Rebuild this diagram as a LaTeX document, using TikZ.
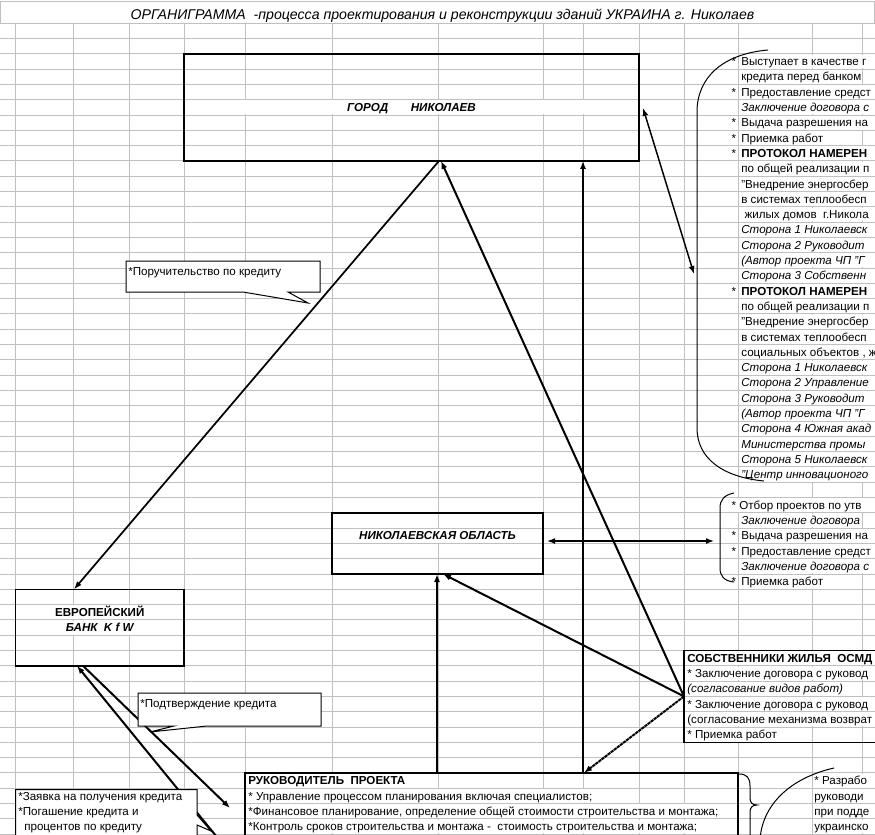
\documentclass[tikz,border=0pt]{standalone}
\usepackage{fontspec}
\setmainfont{Liberation Sans}
\usetikzlibrary{arrows.meta,fit}
\definecolor{gridc}{HTML}{C0C0C0}
\newcommand\bsz{\fontsize{8.7}{10}\selectfont}
\newcommand\xcell[5]{\node[txt,#4] (#1) at (#2,{35+15.3*#3}) {#5};}
\newcommand\xstar[2]{\node[txt,tR,anchor=base east] (#1) at (737.5,{35+15.3*#2}) {*};}
\tikzset{
 gridline/.style={draw=gridc,line width=0.75pt},
 txt/.style={anchor=base west,inner sep=0pt,inner xsep=0.8pt,fill=white,text height=8.3pt,text depth=2.1pt},
 tR/.style={font=\bsz},
 tI/.style={font=\bsz\itshape},
 tB/.style={font=\bsz\bfseries},
 tBI/.style={font=\bsz\bfseries\itshape},
 box/.style={draw=black,line width=1.1pt,inner sep=0pt,outer sep=0pt},
 lbl/.style={fill=white,inner sep=0pt,text height=8.3pt,text depth=2.1pt,anchor=base},
 conn/.style={line width=1.5pt,-{Latex[length=6pt,width=4.5pt]}},
 thinconn/.style={line width=1.3pt,-{Latex[length=6pt,width=4.5pt]}},
 dconn/.style={line width=1.1pt,{Latex[length=6pt,width=4.5pt]}-{Latex[length=6pt,width=4.5pt]}},
 bracel/.style={draw=black,line width=0.75pt},
 callout/.style={draw=black,fill=white,line width=0.75pt},
}
\begin{document}
\begin{tikzpicture}[x=0.75pt,y=-0.75pt]
\useasboundingbox (0,0) rectangle (875,835);
\fill[white] (0,0) rectangle (875,835);
\begin{scope}
\clip (0,0) rectangle (875,835);
% ---------- grid ----------
\draw[gridline] (0.4,1) -- (874.6,1);
\draw[gridline] (0.4,1) -- (0.4,23.2);
\draw[gridline] (874.6,1) -- (874.6,23.2);
\foreach \k in {0,...,53} \draw[gridline] (0,{23.2+15.3*\k}) -- (875,{23.2+15.3*\k});
\foreach \x in {15,73,129,184,245,332,438,543,583,639,684,738,812,862} \draw[gridline] (\x,23.2) -- (\x,835);
% ---------- title ----------
\node[anchor=base,inner sep=0pt,font=\fontsize{10.6}{12}\selectfont\itshape] (title) at (442.5,19) {ОРГАНИГРАММА\ \ -процесса проектирования и реконструкции зданий УКРАИНА г. Николаев};
% ---------- right column (top) ----------
\xstar{s2}{2}\xcell{r2}{740}{2}{tR}{Выступает в качестве г}
\xcell{r3}{740}{3}{tR}{кредита перед банком}
\xstar{s4}{4}\xcell{r4}{740}{4}{tR}{Предоставление средст}
\xcell{r5}{740}{5}{tI}{Заключение договора с}
\xstar{s6}{6}\xcell{r6}{740}{6}{tR}{Выдача разрешения на}
\xstar{s7}{7}\xcell{r7}{740}{7}{tR}{Приемка работ}
\xstar{s8}{8}\xcell{r8}{740}{8}{tB}{ПРОТОКОЛ НАМЕРЕН}
\xcell{r9}{740}{9}{tR}{по общей реализации п}
\xcell{r10}{740}{10}{tR}{"Внедрение энергосбер}
\xcell{r11}{740}{11}{tR}{в системах теплообесп}
\xcell{r12}{740}{12}{tR}{\ жилых домов\ \ г.Никола}
\xcell{r13}{740}{13}{tI}{Сторона 1 Николаевск}
\xcell{r14}{740}{14}{tI}{Сторона 2 Руководит}
\xcell{r15}{740}{15}{tI}{(Автор проекта ЧП "Г}
\xcell{r16}{740}{16}{tI}{Сторона 3 Собственн}
\xstar{s17}{17}\xcell{r17}{740}{17}{tB}{ПРОТОКОЛ НАМЕРЕН}
\xcell{r18}{740}{18}{tR}{по общей реализации п}
\xcell{r19}{740}{19}{tR}{"Внедрение энергосбер}
\xcell{r20}{740}{20}{tR}{в системах теплообесп}
\xcell{r21}{740}{21}{tR}{социальных объектов , ж}
\xcell{r22}{740}{22}{tI}{Сторона 1 Николаевск}
\xcell{r23}{740}{23}{tI}{Сторона 2 Управление}
\xcell{r24}{740}{24}{tI}{Сторона 3 Руководит}
\xcell{r25}{740}{25}{tI}{(Автор проекта ЧП "Г}
\xcell{r26}{740}{26}{tI}{Сторона 4 Южная акад}
\xcell{r27}{740}{27}{tI}{Министерства промы}
\xcell{r28}{740}{28}{tI}{Сторона 5 Николаевск}
\xcell{r29}{740}{29}{tI}{"Центр инновационого}
% ---------- right column (middle) ----------
\xstar{s31}{31}\xcell{r31}{738}{31}{tR}{Отбор проектов по утв}
\xcell{r32}{740}{32}{tI}{Заключение договора}
\xstar{s33}{33}\xcell{r33}{740}{33}{tR}{Выдача разрешения на}
\xstar{s34}{34}\xcell{r34}{740}{34}{tR}{Предоставление средст}
\xcell{r35}{740}{35}{tI}{Заключение договора с}
\xstar{s36}{36}\xcell{r36}{740}{36}{tR}{Приемка работ}
% ---------- owners box texts ----------
\xcell{o41}{686}{41}{tB}{СОБСТВЕННИКИ ЖИЛЬЯ\ \ ОСМД}
\xcell{o42}{686}{42}{tR}{* Заключение договора с руковод}
\xcell{o43}{686}{43}{tI}{(согласование видов работ)}
\xcell{o44}{686}{44}{tR}{* Заключение договора с руковод}
\xcell{o45}{686}{45}{tR}{(согласование механизма возврат}
\xcell{o46}{686}{46}{tR}{* Приемка работ}
% ---------- project manager texts ----------
\xcell{p49}{247}{49}{tB}{РУКОВОДИТЕЛЬ\ \ ПРОЕКТА}
\xcell{p50}{247}{50}{tR}{* Управление процессом планирования включая специалистов;}
\xcell{p51}{247}{51}{tR}{*Финансовое планирование, определение общей стоимости строительства и монтажа;}
\xcell{p52}{247}{52}{tR}{*Контроль сроков строительства и монтажа -\ \ стоимость строительства и монтажа;}
% ---------- bottom right texts ----------
\xcell{q49}{813}{49}{tR}{* Разрабо}
\xcell{q50}{813}{50}{tR}{руководи}
\xcell{q51}{813}{51}{tR}{при подде}
\xcell{q52}{813}{52}{tR}{украинско}
% ---------- boxes ----------
\node[box,fit={(184,53.8) (639,160.9)}] (gorod) {};
\node[box,fit={(332,512.8) (543,574)}] (obl) {};
\node[box,fit={(15.5,589.3) (184,665.8)}] (eu) {};
\node[box,fit={(684,650.5) (900,742.3)}] (sob) {};
\node[box,fit={(245,772.9) (738,860)}] (ruk) {};
\node[lbl,tBI,minimum width=339pt] (gorodL) at (411.5,{35+15.3*5}) {ГОРОД\hspace{17pt}НИКОЛАЕВ};
\node[lbl,tBI,minimum width=156pt] (oblL) at (437.5,{35+15.3*33}) {НИКОЛАЕВСКАЯ ОБЛАСТЬ};
\node[lbl,tB,minimum width=124pt] (euL1) at (99.75,{35+15.3*38}) {ЕВРОПЕЙСКИЙ};
\node[lbl,tBI,minimum width=124pt] (euL2) at (99.75,{35+15.3*39}) {БАНК\ \ K f W};
% ---------- braces ----------
\draw[bracel] (768,50) .. controls (722,54) and (697,78) .. (697,112) -- (697,428) .. controls (697,458) and (722,477) .. (764,481);
\draw[bracel] (734,493) .. controls (724,495) and (720,500) .. (720,508) -- (720,568) .. controls (720,576) and (724,581) .. (734,582);
\draw[bracel] (739,774) .. controls (747,774) and (750,778) .. (750,786) -- (750,798) .. controls (750,802) and (752,805) .. (757,805) .. controls (752,805) and (750,808) .. (750,812) -- (750,840);
\draw[bracel] (834,768) .. controls (790,778) and (762,805) .. (760,840);
% ---------- coordinates ----------
\coordinate (x74) at (74,0);
\coordinate (x77) at (77,0);
\coordinate (x83) at (83,0);
\coordinate (x437) at (437,0);
\coordinate (x439) at (439,0);
\coordinate (x441) at (441,0);
\coordinate (x443) at (443,0);
\coordinate (x583) at (583,0);
\coordinate (x584) at (584,0);
\coordinate (gArr) at (643,108);
\coordinate (bArr1) at (694,274);
\coordinate (oArr) at (547,541);
\coordinate (bArr2) at (714,541);
\coordinate (rukA) at (230,808);
\coordinate (b1end) at (221,842);
% ---------- connectors ----------
\draw[thinconn] (gorod.south -| x439) -- (eu.north -| x74);
\draw[conn] (sob.west) -- (gorod.south -| x441);
\draw[conn] (sob.west) -- (obl.south -| x443);
\draw[conn,dash pattern=on 2.4pt off 0.5pt] (sob.west) -- (ruk.north -| x584);
\draw[conn] (ruk.north -| x583) -- (gorod.south -| x583);
\draw[conn] (ruk.north -| x437) -- (obl.south -| x437);
\draw[dconn] (gArr) -- (bArr1);
\draw[dconn] (oArr) -- (bArr2);
\draw[conn] (b1end) -- (eu.south -| x77);
\draw[conn] (eu.south -| x83) -- (rukA);
% ---------- callouts ----------
\draw[callout] (126,261) -- (320,261) -- (320,292) -- (288,292) -- (308,303) -- (243,292) -- (126,292) -- cycle;
\node[anchor=base west,inner sep=0pt,tR] (c1) at (128,275) {*Поручительство по кредиту};
\draw[callout] (138,693) -- (321,693) -- (321,726) -- (207,726) -- (150,732) -- (174,726) -- (138,726) -- cycle;
\node[anchor=base west,inner sep=0pt,tR] (c2) at (140,707) {*Подтверждение кредита};
\draw[callout] (15.5,789.5) -- (197,789.5) -- (197,815) -- (211,831) -- (197,825) -- (197,845) -- (15.5,845) -- cycle;
\node[anchor=base west,inner sep=0pt,tR] (c3a) at (18,{35+15.3*50}) {*Заявка на получения кредита};
\node[anchor=base west,inner sep=0pt,tR] (c3b) at (18,{35+15.3*51}) {*Погашение кредита и};
\node[anchor=base west,inner sep=0pt,tR] (c3c) at (24,{35+15.3*52}) {процентов по кредиту};
\end{scope}
\end{tikzpicture}
\end{document}
